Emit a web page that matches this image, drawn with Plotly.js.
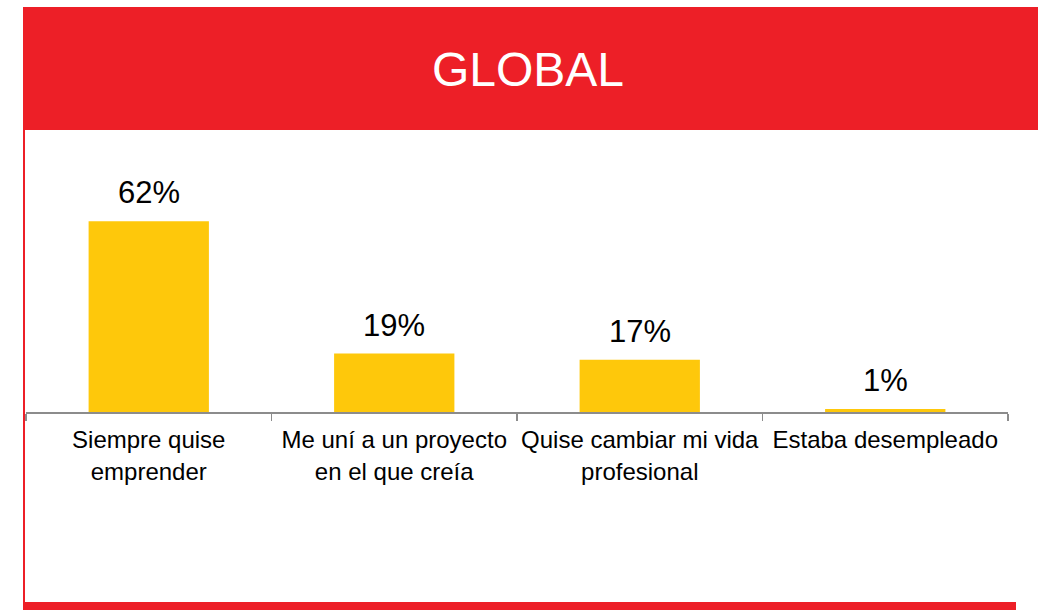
<!DOCTYPE html>
<html>
<head>
<meta charset="utf-8">
<script src="https://cdn.plot.ly/plotly-3.0.1.min.js"></script>
<style>html,body{margin:0;padding:0;background:#fff;}#chart{width:1041px;height:610px;}</style>
</head>
<body>
<div id="chart"></div>
<script>
const categories = ["Siempre quise<br>emprender", "Me uní a un proyecto<br>en el que creía", "Quise cambiar mi vida<br>profesional", "Estaba desempleado"];
const values = [62, 19, 17, 1];
const valueLabels = ["62%", "19%", "17%", "1%"];
const chartTitle = "GLOBAL";

const RED = "#ED1F27";
const FONT = "Liberation Sans, Arial, sans-serif";

const trace = {
  type: "bar",
  x: categories,
  y: values,
  marker: {color: "#FEC80B"},
  width: 0.49,
  hoverinfo: "none"
};

const annotations = categories.map((c, i) => ({
  x: c, y: values[i], xref: "x", yref: "y",
  text: valueLabels[i], showarrow: false,
  yanchor: "bottom", yshift: 9,
  font: {family: FONT, size: 31, color: "#000"}
}));

const layout = {
  width: 1041, height: 610,
  margin: {l: 26, r: 33, t: 166, b: 198},
  paper_bgcolor: "#fff", plot_bgcolor: "rgba(0,0,0,0)",
  showlegend: false,
  title: {text: chartTitle, font: {family: FONT, size: 48, color: "#fff"},
          xref: "container", x: 528/1041, xanchor: "center",
          yref: "container", y: 1 - 69/610, yanchor: "middle"},
  xaxis: {
    showline: true, linecolor: "#8c8c8c", linewidth: 1.5,
    ticks: "outside", tickson: "boundaries", ticklen: 7, tickcolor: "#8c8c8c", tickwidth: 1.5,
    tickfont: {family: FONT, size: 24, color: "#000"},
    tickangle: 0,
    ticklabelstandoff: 6,
    showgrid: false, zeroline: false, range: [-0.5, 3.5], fixedrange: true
  },
  yaxis: {
    range: [0, 80], visible: false, showgrid: false, zeroline: false, fixedrange: true
  },
  annotations: annotations,
  shapes: [
    {type: "rect", xref: "paper", yref: "paper", x0: (23-26)/982, x1: (1038-26)/982,
     y0: (412-130)/246, y1: (412-7)/246, fillcolor: RED, line: {width: 0}, layer: "below"},
    {type: "rect", xref: "paper", yref: "paper", x0: (23-26)/982, x1: (25-26)/982,
     y0: (412-603)/246, y1: (412-104)/246, fillcolor: RED, line: {width: 0}, layer: "below"},
    {type: "rect", xref: "paper", yref: "paper", x0: (23-26)/982, x1: (1016-26)/982,
     y0: (412-610)/246, y1: (412-602)/246, fillcolor: RED, line: {width: 0}, layer: "below"}
  ]
};

Plotly.newPlot("chart", [trace], layout, {displayModeBar: false, staticPlot: true});
</script>
</body>
</html>
